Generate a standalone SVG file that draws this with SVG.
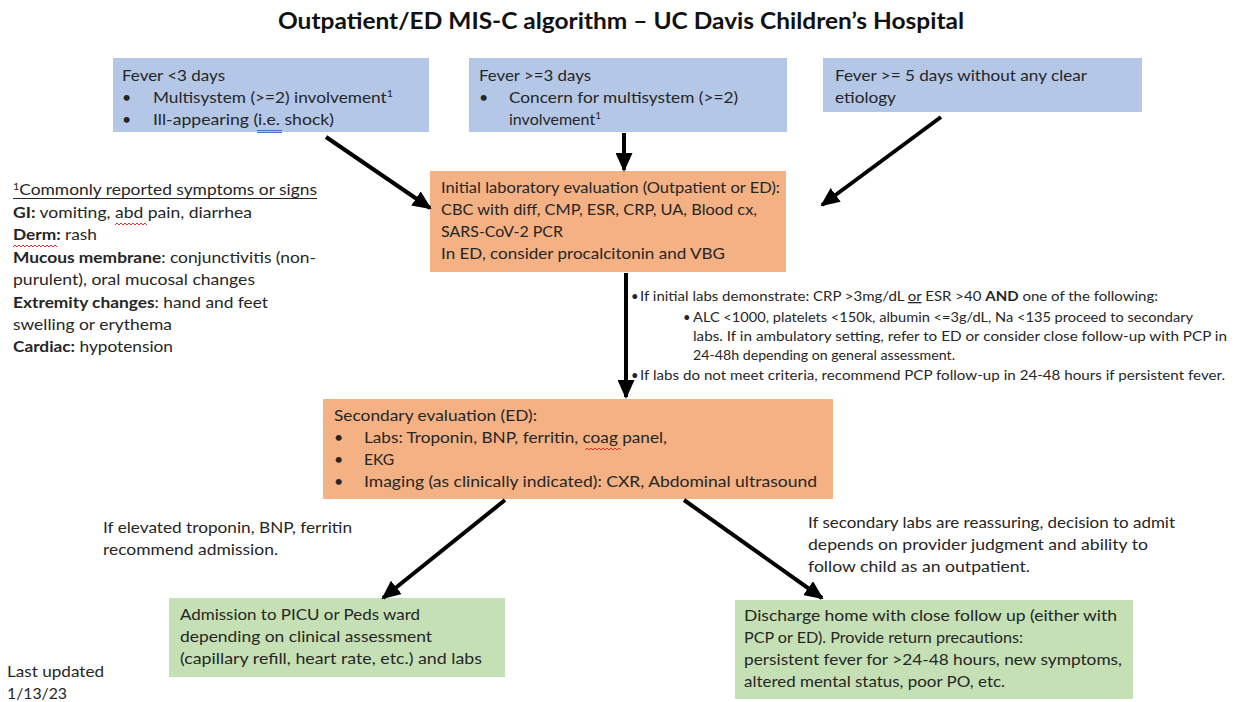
<svg xmlns="http://www.w3.org/2000/svg" width="1234" height="702" viewBox="0 0 1234 702">
<style>
text{font-family:Lato,"Liberation Sans",Arial,sans-serif;fill:#262626;font-size:16px}
.title{font-size:22px;font-weight:bold;fill:#111}
.sm{font-size:13px}
.b{font-weight:bold}
.sup{font-size:10px}
.blue{fill:#b4c7e7}
.orange{fill:#f4b183}
.green{fill:#c5e0b4}
.conn{stroke:#000;stroke-width:4;fill:none}
.wavy{stroke:#e03030;stroke-width:1;fill:none}
</style>
<defs>
<marker id="ah" markerUnits="userSpaceOnUse" markerWidth="19" markerHeight="17" refX="17" refY="8.5" orient="auto">
<path d="M0,0 L19,8.5 L0,17 z" fill="#000"/>
</marker>
</defs>
<rect width="1234" height="702" fill="#fff"/>
<text class="title" x="621" y="29" text-anchor="middle" textLength="686" lengthAdjust="spacingAndGlyphs">Outpatient/ED MIS-C algorithm – UC Davis Children’s Hospital</text>

<g id="fever-lt3">
<rect class="blue" x="113" y="58" width="316" height="74"/>
<text x="122" y="81" textLength="103" lengthAdjust="spacingAndGlyphs">Fever &lt;3 days</text>
<text x="122" y="103">•</text>
<text x="153" y="103" textLength="240" lengthAdjust="spacingAndGlyphs">Multisystem (&gt;=2) involvement<tspan class="sup" dy="-6">1</tspan></text>
<text x="122" y="125">•</text>
<text x="153" y="125" textLength="181" lengthAdjust="spacingAndGlyphs">Ill-appearing (i.e. shock)</text>
<path d="M257,130.5 H282 M257,132.5 H282" stroke="#4a6fd0" stroke-width="1"/>
</g>

<g id="fever-ge3">
<rect class="blue" x="469" y="58" width="318" height="74"/>
<text x="479" y="81" textLength="112" lengthAdjust="spacingAndGlyphs">Fever &gt;=3 days</text>
<text x="479" y="103">•</text>
<text x="509" y="103" textLength="229" lengthAdjust="spacingAndGlyphs">Concern for multisystem (&gt;=2)</text>
<text x="509" y="125">involvement<tspan class="sup" dy="-6">1</tspan></text>
</g>

<g id="fever-ge5">
<rect class="blue" x="823" y="58" width="319" height="54"/>
<text x="835" y="81" textLength="252" lengthAdjust="spacingAndGlyphs">Fever &gt;= 5 days without any clear</text>
<text x="835" y="103" textLength="61" lengthAdjust="spacingAndGlyphs">etiology</text>
</g>

<g id="symptoms-note">
<text x="13" y="195" textLength="304" lengthAdjust="spacingAndGlyphs"><tspan class="sup" dy="-5">1</tspan><tspan dy="5">Commonly reported symptoms or signs</tspan></text>
<line x1="13" y1="198.5" x2="317" y2="198.5" stroke="#262626" stroke-width="1"/>
<text x="13" y="218" textLength="239" lengthAdjust="spacingAndGlyphs"><tspan class="b">GI:</tspan> vomiting, abd pain, diarrhea</text>
<path class="wavy" d="M115,225 l2,-2 l2,2 l2,-2 l2,2 l2,-2 l2,2 l2,-2 l2,2 l2,-2 l2,2 l2,-2 l2,2 l2,-2 l2,2 l2,-2 l2,2"/>
<text x="13" y="240" textLength="84" lengthAdjust="spacingAndGlyphs"><tspan class="b">Derm:</tspan> rash</text>
<path class="wavy" d="M13,247 l2,-2 l2,2 l2,-2 l2,2 l2,-2 l2,2 l2,-2 l2,2 l2,-2 l2,2 l2,-2 l2,2 l2,-2 l2,2 l2,-2 l2,2 l2,-2 l2,2 l2,-2 l2,2 l2,-2 l2,2"/>
<text x="13" y="263" textLength="303" lengthAdjust="spacingAndGlyphs"><tspan class="b">Mucous membrane</tspan>: conjunctivitis (non-</text>
<text x="13" y="285" textLength="242" lengthAdjust="spacingAndGlyphs">purulent), oral mucosal changes</text>
<text x="13" y="308" textLength="255" lengthAdjust="spacingAndGlyphs"><tspan class="b">Extremity changes</tspan>: hand and feet</text>
<text x="13" y="330" textLength="159" lengthAdjust="spacingAndGlyphs">swelling or erythema</text>
<text x="13" y="352" textLength="160" lengthAdjust="spacingAndGlyphs"><tspan class="b">Cardiac:</tspan> hypotension</text>
</g>

<g id="initial-labs">
<rect class="orange" x="430" y="171" width="356" height="101"/>
<text x="441" y="193" textLength="339" lengthAdjust="spacingAndGlyphs">Initial laboratory evaluation (Outpatient or ED):</text>
<text x="441" y="215" textLength="316" lengthAdjust="spacingAndGlyphs">CBC with diff, CMP, ESR, CRP, UA, Blood cx,</text>
<text x="441" y="237" textLength="122" lengthAdjust="spacingAndGlyphs">SARS-CoV-2 PCR</text>
<text x="441" y="259" textLength="284" lengthAdjust="spacingAndGlyphs">In ED, consider procalcitonin and VBG</text>
</g>

<g id="criteria-note">
<text class="sm" x="631" y="301">•</text>
<text class="sm" x="640" y="301" textLength="518" lengthAdjust="spacingAndGlyphs">If initial labs demonstrate: CRP &gt;3mg/dL <tspan text-decoration="underline">or</tspan> ESR &gt;40 <tspan class="b">AND</tspan> one of the following:</text>
<text class="sm" x="683" y="322">•</text>
<text class="sm" x="693" y="322" textLength="500" lengthAdjust="spacingAndGlyphs">ALC &lt;1000, platelets &lt;150k, albumin &lt;=3g/dL, Na &lt;135 proceed to secondary</text>
<text class="sm" x="693" y="341" textLength="534" lengthAdjust="spacingAndGlyphs">labs.  If in ambulatory setting, refer to ED or consider close follow-up with PCP in</text>
<text class="sm" x="693" y="360" textLength="262" lengthAdjust="spacingAndGlyphs">24-48h depending on general assessment.</text>
<text class="sm" x="631" y="380">•</text>
<text class="sm" x="640" y="380" textLength="585" lengthAdjust="spacingAndGlyphs">If labs do not meet criteria, recommend PCP follow-up in 24-48 hours if persistent fever.</text>
</g>

<g id="secondary-eval">
<rect class="orange" x="323" y="399" width="510" height="100"/>
<text x="334" y="421" textLength="203" lengthAdjust="spacingAndGlyphs">Secondary evaluation (ED):</text>
<text x="334" y="443">•</text>
<text x="364" y="443" textLength="303" lengthAdjust="spacingAndGlyphs">Labs: Troponin, BNP, ferritin, coag panel,</text>
<path class="wavy" d="M585,450 l2,-2 l2,2 l2,-2 l2,2 l2,-2 l2,2 l2,-2 l2,2 l2,-2 l2,2 l2,-2 l2,2 l2,-2 l2,2 l2,-2 l2,2 l2,-2 l2,2"/>
<text x="334" y="465">•</text>
<text x="364" y="465" textLength="30" lengthAdjust="spacingAndGlyphs">EKG</text>
<text x="334" y="487">•</text>
<text x="364" y="487" textLength="453" lengthAdjust="spacingAndGlyphs">Imaging (as clinically indicated): CXR, Abdominal ultrasound</text>
</g>

<g id="label-admit">
<text x="103" y="533" textLength="249" lengthAdjust="spacingAndGlyphs">If elevated troponin, BNP, ferritin</text>
<text x="103" y="555" textLength="175" lengthAdjust="spacingAndGlyphs">recommend admission.</text>
</g>

<g id="label-discharge">
<text x="808" y="528" textLength="367" lengthAdjust="spacingAndGlyphs">If secondary labs are reassuring, decision to admit</text>
<text x="808" y="550" textLength="340" lengthAdjust="spacingAndGlyphs">depends on provider judgment and ability to</text>
<text x="808" y="572" textLength="222" lengthAdjust="spacingAndGlyphs">follow child as an outpatient.</text>
</g>

<g id="admission">
<rect class="green" x="169" y="598" width="336" height="79"/>
<text x="180" y="620" textLength="240" lengthAdjust="spacingAndGlyphs">Admission to PICU or Peds ward</text>
<text x="180" y="642" textLength="252" lengthAdjust="spacingAndGlyphs">depending on clinical assessment</text>
<text x="180" y="664" textLength="302" lengthAdjust="spacingAndGlyphs">(capillary refill, heart rate, etc.) and labs</text>
</g>

<g id="discharge">
<rect class="green" x="735" y="600" width="398" height="99"/>
<text x="744" y="621" textLength="373" lengthAdjust="spacingAndGlyphs">Discharge home with close follow up (either with</text>
<text x="744" y="643" textLength="279" lengthAdjust="spacingAndGlyphs">PCP or ED).  Provide return precautions:</text>
<text x="744" y="665" textLength="378" lengthAdjust="spacingAndGlyphs">persistent fever for &gt;24-48 hours, new symptoms,</text>
<text x="744" y="687" textLength="261" lengthAdjust="spacingAndGlyphs">altered mental status, poor PO, etc.</text>
</g>

<g id="last-updated">
<text x="7" y="677" textLength="97" lengthAdjust="spacingAndGlyphs">Last updated</text>
<text x="7" y="699" textLength="60" lengthAdjust="spacingAndGlyphs">1/13/23</text>
</g>

<g id="connectors">
<line class="conn" x1="326" y1="137" x2="430" y2="208" marker-end="url(#ah)"/>
<line class="conn" x1="624" y1="133" x2="624" y2="170" marker-end="url(#ah)"/>
<line class="conn" x1="941" y1="117" x2="822" y2="205" marker-end="url(#ah)"/>
<line class="conn" x1="626" y1="273" x2="626" y2="397" marker-end="url(#ah)"/>
<line class="conn" x1="505" y1="500" x2="383" y2="598" marker-end="url(#ah)"/>
<line class="conn" x1="684" y1="500" x2="822" y2="598" marker-end="url(#ah)"/>
</g>
</svg>
